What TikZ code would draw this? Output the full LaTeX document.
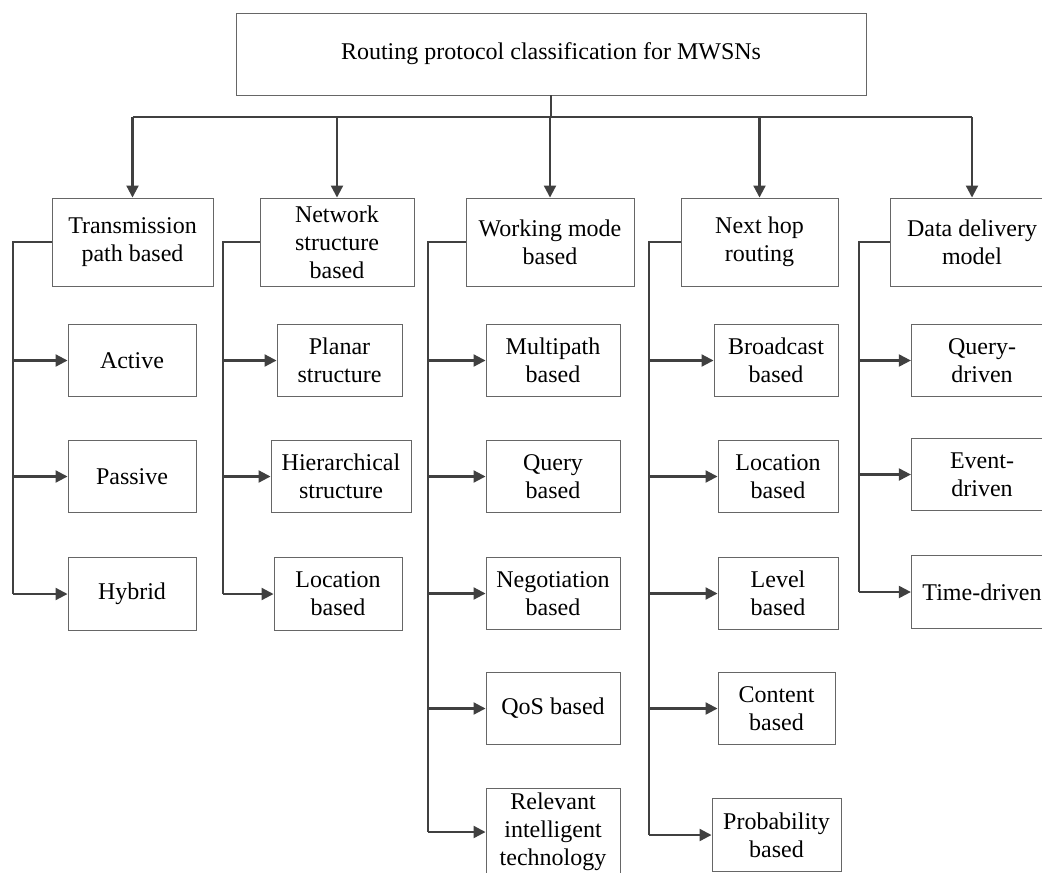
\documentclass[tikz,border=0pt]{standalone}
\usepackage{fontspec}
\setmainfont{Liberation Serif}
\usetikzlibrary{arrows.meta}

\begin{document}
\begin{tikzpicture}[x=0.75pt,y=-0.75pt,font=\fontsize{18}{21}\selectfont,
   box/.style={draw=black!60,line width=0.7pt,align=center,inner sep=1pt},
   cat/.style={box,minimum height=66pt},
   leaf/.style={box,minimum height=54.5pt},
   link/.style={draw=black!75,line width=1.6pt},
   arr/.style={link,-{Triangle[length=9pt,width=9pt]}}]
  \useasboundingbox (0,0) rectangle (1042,872);
  \clip (0,0) rectangle (1042,872);
  % root
  \node[box,minimum width=472.5pt,minimum height=61.5pt] (root) at (551,54)
     {Routing protocol classification for MWSNs};
  % categories
  \node[cat,minimum width=120.75pt] (tp) at (132.5,242) {Transmission\\path based};
  \node[cat,minimum width=115.5pt]  (ns) at (337,242)   {Network\\structure\\based};
  \node[cat,minimum width=126pt]    (wm) at (550,242)   {Working mode\\based};
  \node[cat,minimum width=117.75pt] (nh) at (759.5,242) {Next hop\\routing};
  \node[cat,minimum width=123pt]    (dd) at (972,242)   {Data delivery\\model};
  % transmission path
  \node[leaf,minimum width=96pt] (act) at (132,360.5) {Active};
  \node[leaf,minimum width=96pt] (pas) at (132,476.5) {Passive};
  \node[leaf,minimum width=96pt] (hyb) at (132,594)   {Hybrid};
  % network structure
  \node[leaf,minimum width=93.75pt] (pla) at (339.5,360.5) {Planar\\structure};
  \node[leaf,minimum width=105pt]   (hie) at (341,476.5)   {Hierarchical\\structure};
  \node[leaf,minimum width=96pt]    (loc) at (338,594)     {Location\\based};
  % working mode
  \node[leaf,minimum width=100.5pt] (mul) at (553,360.5) {Multipath\\based};
  \node[leaf,minimum width=100.5pt] (qry) at (553,476.5) {Query\\based};
  \node[leaf,minimum width=100.5pt] (neg) at (553,593.5) {Negotiation\\based};
  \node[leaf,minimum width=100.5pt] (qos) at (553,708.5) {QoS based};
  \node[leaf,minimum width=100.5pt,minimum height=65pt] (rel) at (553,832)
     {Relevant\\intelligent\\technology};
  % next hop
  \node[leaf,minimum width=93pt]   (bro) at (776,360.5) {Broadcast\\based};
  \node[leaf,minimum width=90pt]   (lob) at (778,476.5) {Location\\based};
  \node[leaf,minimum width=90pt]   (lev) at (778,593.5) {Level\\based};
  \node[leaf,minimum width=87.75pt] (con) at (776.5,708.5) {Content\\based};
  \node[leaf,minimum width=96.75pt] (pro) at (776.5,835) {Probability\\based};
  % data delivery
  \node[leaf,minimum width=106pt] (qdr) at (982,360.5) {Query-\\driven};
  \node[leaf,minimum width=106pt] (edr) at (982,474.5) {Event-\\driven};
  \node[leaf,minimum width=106pt] (tdr) at (982,592)   {Time-driven};
  % bus from the root
  \coordinate (bus) at (0,117);
  \draw[link] (root.south) -- (root.south |- bus);
  \draw[link] (tp.north |- bus) -- (dd.north |- bus);
  \foreach \c in {tp,ns,wm,nh,dd}
    \draw[arr] (\c.north |- bus) -- (\c.north);
  % spines
  \coordinate (s1) at (13,0);
  \coordinate (s2) at (223,0);
  \coordinate (s3) at (428,0);
  \coordinate (s4) at (649,0);
  \coordinate (s5) at (859,0);
  \draw[link] (tp.west) -| (s1 |- hyb.west);
  \draw[link] (ns.west) -| (s2 |- loc.west);
  \draw[link] (wm.west) -| (s3 |- rel.west);
  \draw[link] (nh.west) -| (s4 |- pro.west);
  \draw[link] (dd.west) -| (s5 |- tdr.west);
  \foreach \l in {act,pas,hyb}         \draw[arr] (s1 |- \l.west) -- (\l.west);
  \foreach \l in {pla,hie,loc}         \draw[arr] (s2 |- \l.west) -- (\l.west);
  \foreach \l in {mul,qry,neg,qos,rel} \draw[arr] (s3 |- \l.west) -- (\l.west);
  \foreach \l in {bro,lob,lev,con,pro} \draw[arr] (s4 |- \l.west) -- (\l.west);
  \foreach \l in {qdr,edr,tdr}         \draw[arr] (s5 |- \l.west) -- (\l.west);
\end{tikzpicture}
\end{document}
